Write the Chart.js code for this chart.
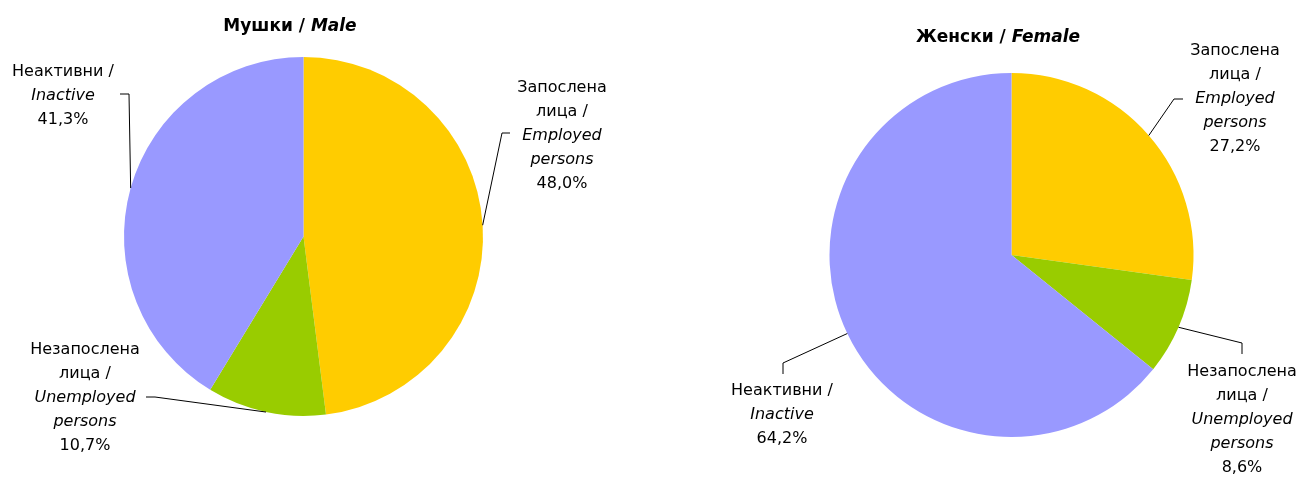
<!DOCTYPE html>
<html>
<head>
<meta charset="utf-8">
<script src="https://cdn.jsdelivr.net/npm/chart.js@4.4.0/dist/chart.umd.min.js"></script>
<style>
  body { margin: 0; background: #fff; }
  #wrap { position: relative; width: 1300px; height: 480px; }
  .box { position: absolute; top: 0; width: 650px; height: 480px; }
</style>
</head>
<body>
<div id="wrap">
  <div class="box" style="left:0"><canvas id="maleChart"></canvas></div>
  <div class="box" style="left:650px"><canvas id="femaleChart"></canvas></div>
</div>
<script>
const categories = ['Запослена лица / Employed persons', 'Незапослена лица / Unemployed persons', 'Неактивни / Inactive'];
// label text split into lines: [text, italic]
const categoryLines = [
  [['Запослена', false], ['лица /', false], ['Employed', true], ['persons', true]],
  [['Незапослена', false], ['лица /', false], ['Unemployed', true], ['persons', true]],
  [['Неактивни /', false], ['Inactive', true]],
];
const maleValues = [48.0, 10.7, 41.3];
const femaleValues = [27.2, 8.6, 64.2];
const sliceColors = ['#ffcc00', '#99cc00', '#9999ff'];

const FONT = '"DejaVu Sans", sans-serif';
const LINE_H = 24;

function pct(v) {
  return v.toFixed(1).replace('.', ',') + '%';
}

// draws the title and the labels with leader lines
const sliceLabels = {
  id: 'sliceLabels',
  afterDatasetsDraw(chart, args, opts) {
    const ctx = chart.ctx;
    const meta = chart.getDatasetMeta(0);
    const values = chart.data.datasets[0].data;
    ctx.save();

    // title: bold + bold italic
    ctx.textBaseline = 'middle';
    ctx.fillStyle = '#000';
    const t1 = opts.title[0] + ' ', t2 = opts.title[1];
    ctx.font = 'bold 17px ' + FONT;
    const w1 = ctx.measureText(t1).width;
    ctx.font = 'italic bold 17px ' + FONT;
    const w2 = ctx.measureText(t2).width;
    let tx = opts.titlePos[0] - (w1 + w2) / 2;
    ctx.textAlign = 'left';
    ctx.font = 'bold 17px ' + FONT;
    ctx.fillText(t1, tx, opts.titlePos[1]);
    ctx.font = 'italic bold 17px ' + FONT;
    ctx.fillText(t2, tx + w1, opts.titlePos[1]);

    ctx.strokeStyle = '#000';
    ctx.lineWidth = 1;
    ctx.textAlign = 'center';
    meta.data.forEach((arc, i) => {
      const p = opts.places[i];
      const mid = (arc.startAngle + arc.endAngle) / 2;
      const ex = arc.x + Math.cos(mid) * arc.outerRadius;
      const ey = arc.y + Math.sin(mid) * arc.outerRadius;
      ctx.beginPath();
      ctx.moveTo(ex, ey);
      p.leader.forEach(pt => ctx.lineTo(pt[0], pt[1]));
      ctx.stroke();

      const lines = categoryLines[i].concat([[pct(values[i]), false]]);
      lines.forEach((ln, k) => {
        ctx.font = (ln[1] ? 'italic ' : '') + '16px ' + FONT;
        ctx.fillText(ln[0], p.x, p.y + k * LINE_H);
      });
    });
    ctx.restore();
  }
};

function makePie(id, values, padding, title, titlePos, places) {
  return new Chart(document.getElementById(id), {
    type: 'pie',
    data: {
      labels: categories,
      datasets: [{
        data: values,
        backgroundColor: sliceColors,
        borderWidth: 0,
        hoverOffset: 0,
      }]
    },
    options: {
      responsive: true,
      maintainAspectRatio: false,
      animation: false,
      layout: { padding: padding },
      plugins: {
        legend: { display: false },
        tooltip: { enabled: false },
        title: { display: false },
        sliceLabels: { title: title, titlePos: titlePos, places: places }
      }
    },
    plugins: [sliceLabels]
  });
}

makePie('maleChart', maleValues,
  { left: 124, right: 167, top: 57, bottom: 64 },
  ['Мушки /', 'Male'], [290, 27],
  [
    { x: 562, y: 88, leader: [[502, 133], [510, 133]] },
    { x: 85, y: 350, leader: [[155, 397], [146, 397]] },
    { x: 63, y: 72, leader: [[129, 94], [120, 94]] },
  ]);

makePie('femaleChart', femaleValues,
  { left: 179, right: 106, top: 73, bottom: 43 },
  ['Женски /', 'Female'], [348, 38],
  [
    { x: 585, y: 51, leader: [[524, 99], [533, 99]] },
    { x: 592, y: 372, leader: [[592, 343], [592, 354]] },
    { x: 132, y: 391, leader: [[133, 363], [133, 374]] },
  ]);
</script>
</body>
</html>
